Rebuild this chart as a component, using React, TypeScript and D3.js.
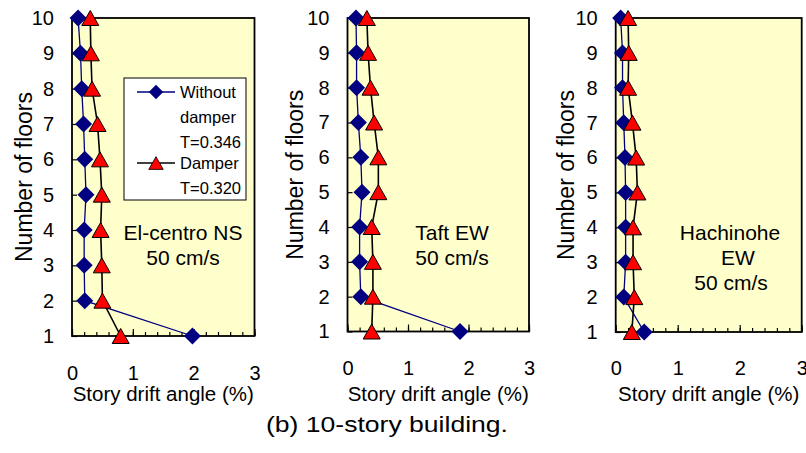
import * as d3 from "d3";
import { useRef, useEffect } from "react";

// story drift angle (%) for floors 1..10
const floors = [1, 2, 3, 4, 5, 6, 7, 8, 9, 10];
const xTicks = [0, 1, 2, 3];
const xMinorTicks = d3.range(0, 3.01, 0.2);

const elCentroWithout = [1.98, 0.21, 0.2, 0.2, 0.23, 0.21, 0.19, 0.16, 0.14, 0.1];
const elCentroDamper = [0.8, 0.5, 0.49, 0.47, 0.49, 0.46, 0.42, 0.33, 0.31, 0.3];
const taftWithout = [1.86, 0.22, 0.2, 0.2, 0.24, 0.22, 0.18, 0.15, 0.15, 0.14];
const taftDamper = [0.4, 0.42, 0.42, 0.4, 0.51, 0.51, 0.44, 0.38, 0.34, 0.32];
const hachinoheWithout = [0.46, 0.13, 0.16, 0.16, 0.16, 0.15, 0.13, 0.11, 0.11, 0.08];
const hachinoheDamper = [0.26, 0.3, 0.28, 0.28, 0.35, 0.33, 0.27, 0.2, 0.21, 0.2];

const panelLabels = [
	["El-centro NS", "50 cm/s"],
	["Taft EW", "50 cm/s"],
	["Hachinohe", "EW", "50 cm/s"],
];
const legendWithout = ["Without", "damper", "T=0.346"];
const legendDamper = ["Damper", "T=0.320"];
const xTitle = "Story drift angle (%)";
const yTitle = "Number of floors";
const caption = "(b) 10-story building.";

const FONT = "'Liberation Sans', Arial, sans-serif";
const NAVY = "#000080";
const RED = "#ff0000";

const diamondPath = "M0,-8.5L8.5,0L0,8.5L-8.5,0Z";
const trianglePath = "M0,-7.5L8.5,7.5L-8.5,7.5Z";

const panels = [
	{ left: 72, right: 254.5, top: 18, bottom: 336, without: elCentroWithout, damper: elCentroDamper,
		yTitleX: 24, tickLabelY: 373, textX: 183, textDx: [0, 0], legend: true },
	{ left: 347.5, right: 529, top: 18, bottom: 331.5, without: taftWithout, damper: taftDamper,
		yTitleX: 295, tickLabelY: 368, textX: 452, textDx: [0, 0], legend: false },
	{ left: 615.7, right: 801.7, top: 18, bottom: 332, without: hachinoheWithout, damper: hachinoheDamper,
		yTitleX: 566, tickLabelY: 368, textX: 730, textDx: [0, 8, 1], legend: false },
];

const App = () => {
	const chartRef = useRef(null);

	useEffect(() => {
		const svg = d3.select(chartRef.current);
		svg.selectAll("*").remove();

		panels.forEach((p, pi) => {
			const x = d3.scaleLinear().domain([0, 3]).range([p.left, p.right]);
			const y = d3.scaleLinear().domain([1, 10]).range([p.bottom, p.top]);
			const g = svg.append("g");

			// plot area
			g.append("rect")
				.attr("x", p.left)
				.attr("y", p.top)
				.attr("width", p.right - p.left)
				.attr("height", p.bottom - p.top)
				.style("fill", "#ffffcc")
				.style("stroke", "#000")
				.style("stroke-width", 1.8);

			// x minor ticks (inside)
			g.append("g")
				.attr("transform", `translate(0, ${p.bottom})`)
				.call(d3.axisBottom(x).tickValues(xMinorTicks).tickSize(-4).tickFormat(() => ""))
				.call(s => s.select(".domain").remove())
				.selectAll("line").style("stroke", "#000").style("stroke-width", 1.2);

			// x major ticks + labels
			const xa = g.append("g")
				.attr("transform", `translate(0, ${p.bottom})`)
				.call(d3.axisBottom(x).tickValues(xTicks).tickSize(-7).tickFormat(d3.format("d")));
			xa.select(".domain").remove();
			xa.selectAll("line").style("stroke", "#000").style("stroke-width", 1.2);
			xa.selectAll("text")
				.attr("y", p.tickLabelY - p.bottom)
				.attr("dy", "0.35em")
				.style("font-family", FONT)
				.style("font-size", "20px")
				.style("fill", "#000");

			// y ticks + labels
			const ya = g.append("g")
				.attr("transform", `translate(${p.left}, 0)`)
				.call(d3.axisLeft(y).tickValues(floors).tickSize(-5).tickPadding(18).tickFormat(d3.format("d")));
			ya.select(".domain").remove();
			ya.selectAll("line").style("stroke", "#000").style("stroke-width", 1.2);
			ya.selectAll("text")
				.style("font-family", FONT)
				.style("font-size", "20px")
				.style("fill", "#000");

			// titles
			g.append("text")
				.attr("transform", `translate(${p.yTitleX}, ${(p.top + p.bottom) / 2}) rotate(-90)`)
				.attr("text-anchor", "middle")
				.attr("dy", "0.35em")
				.style("font-family", FONT)
				.style("font-size", "23px")
				.text(yTitle);

			g.append("text")
				.attr("x", (p.left + p.right) / 2)
				.attr("y", 394)
				.attr("text-anchor", "middle")
				.attr("dy", "0.35em")
				.style("font-family", FONT)
				.style("font-size", "20.5px")
				.text(xTitle);

			// record name inside plot
			panelLabels[pi].forEach((t, i) => {
				g.append("text")
					.attr("x", p.textX + p.textDx[i])
					.attr("y", 233 + i * 25)
					.attr("text-anchor", "middle")
					.attr("dy", "0.35em")
					.style("font-family", FONT)
					.style("font-size", "21px")
					.text(t);
			});

			const line = d3.line<number>()
				.x(d => x(d))
				.y((d, i) => y(floors[i]));

			// without damper
			g.append("path")
				.attr("d", line(p.without))
				.style("fill", "none")
				.style("stroke", NAVY)
				.style("stroke-width", 1.3);
			g.selectAll(".dia")
				.data(p.without)
				.enter()
				.append("path")
				.attr("d", diamondPath)
				.attr("transform", (d, i) => `translate(${x(d)}, ${y(floors[i])})`)
				.style("fill", NAVY);

			// with damper
			g.append("path")
				.attr("d", line(p.damper))
				.style("fill", "none")
				.style("stroke", "#000")
				.style("stroke-width", 1.6);
			g.selectAll(".tri")
				.data(p.damper)
				.enter()
				.append("path")
				.attr("d", trianglePath)
				.attr("transform", (d, i) => `translate(${x(d)}, ${y(floors[i])})`)
				.style("fill", RED)
				.style("stroke", "#000")
				.style("stroke-width", 1);

			if (p.legend) {
				const lg = g.append("g");
				lg.append("rect")
					.attr("x", 124)
					.attr("y", 78)
					.attr("width", 122)
					.attr("height", 122)
					.style("fill", "#fff")
					.style("stroke", "#000")
					.style("stroke-width", 1);

				const entries = [
					{ lines: legendWithout, y0: 92, color: NAVY, marker: diamondPath, fill: NAVY, stroke: "none", lw: 1.3 },
					{ lines: legendDamper, y0: 163, color: "#000", marker: trianglePath, fill: RED, stroke: "#000", lw: 1.6 },
				];
				entries.forEach(e => {
					lg.append("line")
						.attr("x1", 137).attr("x2", 175)
						.attr("y1", e.y0).attr("y2", e.y0)
						.style("stroke", e.color)
						.style("stroke-width", e.lw);
					lg.append("path")
						.attr("d", e.marker)
						.attr("transform", `translate(156, ${e.y0}) scale(0.85)`)
						.style("fill", e.fill)
						.style("stroke", e.stroke);
					e.lines.forEach((t, i) => {
						lg.append("text")
							.attr("x", 180)
							.attr("y", e.y0 + i * 25)
							.attr("dy", "0.35em")
							.style("font-family", FONT)
							.style("font-size", "16.5px")
							.text(t);
					});
				});
			}
		});

		svg.append("text")
			.attr("x", 387)
			.attr("y", 424)
			.attr("text-anchor", "middle")
			.attr("dy", "0.35em")
			.attr("textLength", 242)
			.attr("lengthAdjust", "spacingAndGlyphs")
			.style("font-family", FONT)
			.style("font-size", "22px")
			.text(caption);
	}, []);

	return (
		<div style={{ position: "absolute", left: 0, top: 0 }}>
			<svg ref={chartRef} width={806} height={453} style={{ display: "block", background: "#fff" }}></svg>
		</div>
	);
};

export default App;
